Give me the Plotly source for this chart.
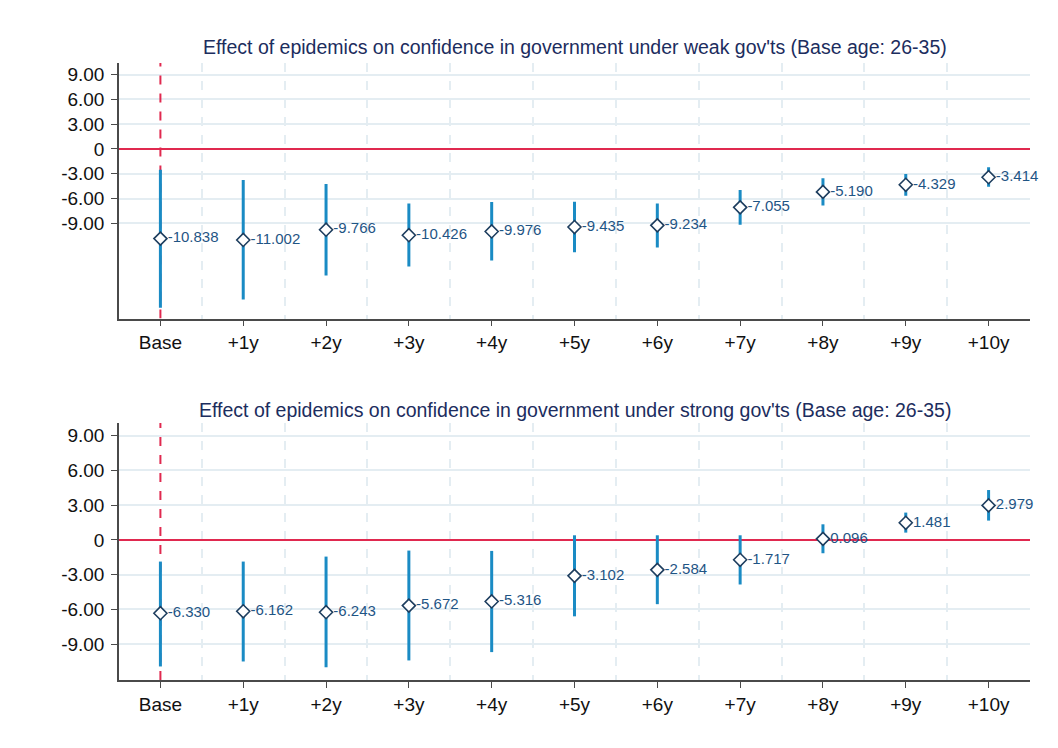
import plotly.graph_objects as go

# ---- data ----
categories = ["Base", "+1y", "+2y", "+3y", "+4y", "+5y", "+6y", "+7y", "+8y", "+9y", "+10y"]

est_weak = [-10.838, -11.002, -9.766, -10.426, -9.976, -9.435, -9.234, -7.055, -5.190, -4.329, -3.414]
lo_weak = [-19.2, -18.2, -15.3, -14.2, -13.5, -12.5, -11.9, -9.16, -6.82, -5.65, -4.56]
hi_weak = [-2.5, -3.75, -4.24, -6.58, -6.42, -6.38, -6.58, -4.96, -3.55, -3.03, -2.22]

est_strong = [-6.330, -6.162, -6.243, -5.672, -5.316, -3.102, -2.584, -1.717, 0.096, 1.481, 2.979]
lo_strong = [-10.93, -10.5, -11.0, -10.41, -9.69, -6.6, -5.55, -3.85, -1.15, 0.63, 1.67]
hi_strong = [-1.87, -1.87, -1.44, -0.92, -0.95, 0.4, 0.4, 0.4, 1.35, 2.36, 4.31]

ytick_vals = [-9, -6, -3, 0, 3, 6, 9]
ytick_text = ["-9.00", "-6.00", "-3.00", "0", "3.00", "6.00", "9.00"]

yrange_weak = [-20.5, 10.4]
yrange_strong = [-12.1, 10.1]
xrange_all = [-0.5, 10.5]

title_weak = "Effect of epidemics on confidence in government under weak gov'ts (Base age: 26-35)"
title_strong = "Effect of epidemics on confidence in government under strong gov'ts (Base age: 26-35)"

# ---- style ----
OFF = 8  # page body margin
W, H = 1058 - OFF, 748 - OFF
FONT = "Liberation Sans, Arial, Helvetica, sans-serif"
BAR_COLOR = "#1a8bc4"
MARK_LINE = "#1d3d5e"
LABEL_COLOR = "#1f5585"
TITLE_COLOR = "#1c2d5e"
RED = "#e0294f"
GRID = "#e4edf2"
AXIS = "#4a4a4a"

def px_x(p):
    return (p - OFF) / W

def px_y(p):
    return 1 - (p - OFF) / H

xs = list(range(len(categories)))

fig = go.Figure()

def add_panel(est, lo, hi, xa, ya):
    fig.add_trace(go.Scatter(
        x=xs, y=est, xaxis=xa, yaxis=ya,
        mode="markers+text",
        text=[f"{v:.3f}" for v in est],
        textposition="middle right",
        textfont=dict(family=FONT, size=15, color=LABEL_COLOR),
        marker=dict(symbol="diamond", size=10, color="white",
                    line=dict(color=MARK_LINE, width=1.6)),
        error_y=dict(type="data", symmetric=False,
                     array=[h - e for h, e in zip(hi, est)],
                     arrayminus=[e - l for e, l in zip(est, lo)],
                     color=BAR_COLOR, thickness=3, width=0),
        showlegend=False, cliponaxis=False,
    ))

add_panel(est_weak, lo_weak, hi_weak, "x", "y")
add_panel(est_strong, lo_strong, hi_strong, "x2", "y2")

xdom = [px_x(119), px_x(1030)]
top_dom = [px_y(318.5), px_y(63)]
bot_dom = [px_y(680), px_y(423)]

xaxis_common = dict(
    domain=xdom, range=xrange_all,
    tickmode="array", tickvals=xs, ticktext=categories,
    ticks="outside", ticklen=6, tickwidth=1.3, tickcolor=AXIS,
    showline=True, linecolor=AXIS, linewidth=1.5,
    showgrid=False, zeroline=False, automargin=False,
    tickfont=dict(family=FONT, size=19, color="#111111"),
    minor=dict(tick0=0.5, dtick=1, showgrid=True, griddash="dash",
               gridcolor=GRID, gridwidth=1.5, ticks=""),
)
yaxis_common = dict(
    tickmode="array", tickvals=ytick_vals, ticktext=ytick_text,
    ticks="outside", ticklen=6, tickwidth=1.3, tickcolor=AXIS,
    showline=True, linecolor=AXIS, linewidth=1.5,
    showgrid=True, gridcolor=GRID, gridwidth=1.5, zeroline=False,
    automargin=False, ticklabelstandoff=3,
    tickfont=dict(family=FONT, size=19, color="#111111"),
)

fig.update_layout(
    width=W, height=H,
    margin=dict(l=0, r=0, t=0, b=0),
    paper_bgcolor="white", plot_bgcolor="white",
    xaxis=dict(**xaxis_common, anchor="y"),
    yaxis=dict(**yaxis_common, domain=top_dom, range=yrange_weak, anchor="x"),
    xaxis2=dict(**xaxis_common, anchor="y2"),
    yaxis2=dict(**yaxis_common, domain=bot_dom, range=yrange_strong, anchor="x2"),
)

# reference lines (below the data, above the grid)
for xa, ya, yr in (("x", "y", yrange_weak), ("x2", "y2", yrange_strong)):
    fig.add_shape(type="line", xref=xa, yref=ya, x0=xrange_all[0], x1=xrange_all[1], y0=0, y1=0,
                  line=dict(color=RED, width=2), layer="between")
    fig.add_shape(type="line", xref=xa, yref=ya, x0=0, x1=0, y0=yr[0], y1=yr[1],
                  line=dict(color=RED, width=2, dash="dash"), layer="between")

xc = (xdom[0] + xdom[1]) / 2
fig.add_annotation(text=title_weak, xref="paper", yref="paper", x=xc, y=px_y(47),
                   xanchor="center", yanchor="middle",
                   showarrow=False, font=dict(family=FONT, size=19.5, color=TITLE_COLOR))
fig.add_annotation(text=title_strong, xref="paper", yref="paper", x=xc, y=px_y(410),
                   xanchor="center", yanchor="middle",
                   showarrow=False, font=dict(family=FONT, size=19.5, color=TITLE_COLOR))

fig.write_html("out.html")
